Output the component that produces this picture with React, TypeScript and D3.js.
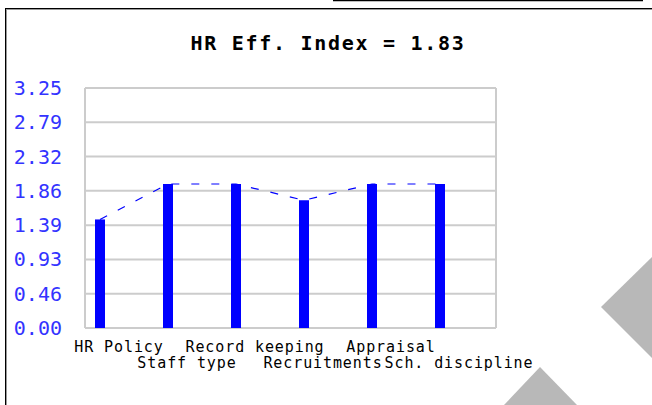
import React from "react";
import * as d3 from "d3";

const categories = ["HR Policy", "Staff type", "Record keeping", "Recruitments", "Appraisal", "Sch. discipline"];
const values = [1.47, 1.95, 1.95, 1.73, 1.95, 1.95];
const yMax = 3.25;
const tickCount = 7;
const title = "HR Eff. Index = 1.83";

const W = 652;
const H = 405;

export default function App() {
  const x = d3.scaleBand<string>().domain(categories).range([85, 85 + 68 * categories.length]).padding(0);
  const y = d3.scaleLinear().domain([0, yMax]).range([328, 88]);
  const ticks = d3.range(tickCount + 1).map((i) => (i * yMax) / tickCount);
  const barX = (c: string) => (x(c) as number) + 10;
  const barW = 10;
  const line = d3
    .line<number>()
    .x((_, i) => barX(categories[i]) + barW / 2)
    .y((d) => y(d));
  const mono = "'DejaVu Sans Mono', monospace";

  return (
    <svg width={W} height={H} style={{ position: "absolute", left: 0, top: 0, background: "#fff" }}>
      {/* outer frame */}
      <line x1={333} x2={643} y1={0.5} y2={0.5} stroke="#000" strokeWidth={1.5} />
      <line x1={5.5} x2={W} y1={8.5} y2={8.5} stroke="#000" strokeWidth={1} />
      <line x1={6.5} x2={W} y1={9.5} y2={9.5} stroke="#999" strokeWidth={1} />
      <line x1={5.5} x2={5.5} y1={8} y2={H} stroke="#000" strokeWidth={1} />
      <line x1={6.5} x2={6.5} y1={9} y2={H} stroke="#999" strokeWidth={1} />

      <text x={328} y={50} textAnchor="middle" fontFamily={mono} fontWeight="bold" fontSize={20} letterSpacing={1.7} fill="#000">
        {title}
      </text>

      {/* grid */}
      {ticks.map((t, i) => (
        <line key={"g" + i} x1={85} x2={496} y1={y(t)} y2={y(t)} stroke="#cccccc" strokeWidth={2} />
      ))}
      <line x1={85} x2={85} y1={y(yMax)} y2={y(0)} stroke="#cccccc" strokeWidth={2} />
      <line x1={496} x2={496} y1={y(yMax)} y2={y(0)} stroke="#cccccc" strokeWidth={2} />

      {/* y labels */}
      {ticks.map((t, i) => (
        <text key={"yl" + i} x={62} y={y(t) + 7} textAnchor="end" fontFamily={mono} fontSize={20} fill="#3333ff">
          {t.toFixed(2)}
        </text>
      ))}

      {/* dashed line */}
      <path d={line(values) || ""} fill="none" stroke="#0000ff" strokeWidth={1.2} strokeDasharray="8,12" />

      {/* bars */}
      {categories.map((c, i) => (
        <rect key={"b" + i} x={barX(c)} y={y(values[i])} width={barW} height={y(0) - y(values[i])} fill="#0000ff" />
      ))}

      {/* x labels */}
      {categories.map((c, i) => (
        <text
          key={"xl" + i}
          x={(x(c) as number) + x.bandwidth() / 2}
          y={i % 2 === 0 ? 352 : 368}
          textAnchor="middle"
          fontFamily={mono}
          fontSize={15}
          letterSpacing={0.9}
          fill="#000"
        >
          {c}
        </text>
      ))}

      {/* gray decorative shapes */}
      <polygon points="601,307 652,257 652,358" fill="#b8b8b8" />
      <polygon points="540,367 504,405 577,405" fill="#b8b8b8" />
    </svg>
  );
}
